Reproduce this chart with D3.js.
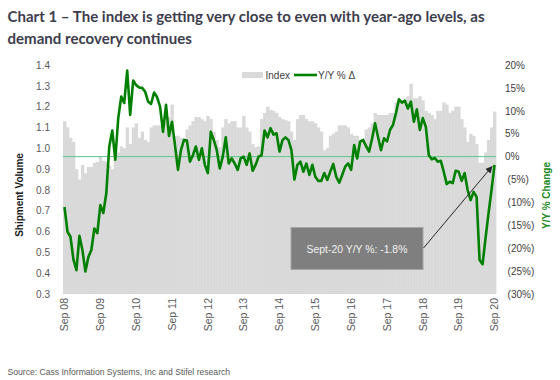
<!DOCTYPE html>
<html>
<head>
<meta charset="utf-8">
<script src="https://cdn.jsdelivr.net/npm/d3@7"></script>
<style>
  body { margin: 0; background: #fff; }
  svg { display: block; font-family: "Liberation Sans", Arial, sans-serif; }
</style>
</head>
<body>
<svg id="chart" width="560" height="380"></svg>
<script>
// Cass shipments index, monthly Sep 08 .. Sep 20
const indexValues = [
  1.13, 1.10, 1.05, 1.03, 0.90, 0.85, 0.92, 0.88, 0.91, 0.91, 0.93, 0.935,
  0.96, 0.94, 0.935, 0.915, 0.90, 0.95, 0.98, 1.01, 1.00, 1.10, 1.02, 1.10,
  1.12, 1.05, 1.08, 1.04, 1.03, 1.10, 1.11, 1.11, 1.11, 1.08, 1.13, 1.15,
  1.21, 1.06, 1.06, 1.05, 1.05, 1.09, 1.11, 1.13, 1.15, 1.15, 1.14, 1.13,
  1.155, 1.14, 1.08, 1.04, 1.005, 1.10, 1.14, 1.12, 1.13, 1.13, 1.10, 1.10,
  1.155, 1.10, 1.08, 1.02, 1.005, 1.01, 1.14, 1.17, 1.20, 1.185, 1.18, 1.17,
  1.15, 1.14, 1.135, 1.13, 1.08, 1.04, 1.14, 1.16, 1.16, 1.14, 1.13, 1.13,
  1.12, 1.10, 1.08, 0.99, 1.00, 1.06, 1.07, 1.08, 1.11, 1.11, 1.11, 1.10,
  1.07, 1.06, 1.06, 1.03, 1.05, 1.09, 1.10, 1.12, 1.17, 1.16, 1.16, 1.16,
  1.16, 1.17, 1.17, 1.22, 1.23, 1.23, 1.23, 1.25, 1.31, 1.24, 1.24, 1.25,
  1.23, 1.18, 1.17, 1.16, 1.14, 1.18, 1.18, 1.22, 1.21, 1.17, 1.18, 1.20,
  1.20, 1.14, 1.10, 1.03, 1.07, 1.06, 1.02, 0.93, 0.93, 0.98, 1.04, 1.10,
  1.176
];

// Y/Y % change, same months
const yoyValues = [
  -11.0, -16.4, -17.5, -22.5, -24.8, -17.3, -20.4, -25.1, -21.9, -20.4, -15.7, -16.7,
  -10.6, -12.3, -8.0, 2.2, 5.7, -0.7, 8.4, 13.1, 11.7, 18.8, 9.1, 16.6,
  15.6, 15.1, 15.0, 14.2, 12.0, 11.5, 14.0, 13.0, 10.9, 5.4, 11.3, 4.5,
  7.6, 2.5, -2.9, 1.4, 3.6, 3.5, -1.1, 0.3, 2.2, -0.7, 1.8, -1.8,
  -3.6, 5.4, 3.6, 1.4, -2.6, 0.0, 4.2, -1.5, -0.4, -1.5, -2.9, -0.4,
  0.0, -1.8, 0.7, -3.1, -1.8, 0.0, 0.3, 5.7, 4.2, 6.2, 4.8, 5.1,
  1.1, 3.6, 4.2, 3.6, 1.4, -5.0, -1.8, -1.1, -3.3, -1.5, -4.0, -1.8,
  -4.4, -5.3, -5.3, -3.6, -5.1, -3.3, -1.6, -4.4, -5.7, -4.0, -2.2, -1.5,
  -2.9, 2.5, -0.4, 3.3, 3.6, 2.3, 1.1, 3.9, 7.3, 4.3, 1.4, 4.0,
  3.3, 5.8, 6.9, 9.5, 12.5, 11.8, 12.2, 10.5, 12.0, 7.6, 10.3, 5.8,
  8.4, 6.5, 0.3, -0.6, -0.3, -1.1, -0.9, -3.3, -6.0, -5.5, -5.8, -3.1,
  -3.3, -5.3, -3.6, -7.3, -9.5, -7.7, -8.8, -22.6, -23.5, -17.8, -12.4, -7.3,
  -1.8
];

const leftTicks = [0.3, 0.4, 0.5, 0.6, 0.7, 0.8, 0.9, 1.0, 1.1, 1.2, 1.3, 1.4];
const rightTicks = [-30, -25, -20, -15, -10, -5, 0, 5, 10, 15, 20];
const tickLabels = ["Sep 08", "Sep 09", "Sep 10", "Sep 11", "Sep 12", "Sep 13",
  "Sep 14", "Sep 15", "Sep 16", "Sep 17", "Sep 18", "Sep 19", "Sep 20"];

const months = d3.timeMonth.range(new Date(2008, 8, 1), new Date(2020, 9, 1));
const fmtMonth = d3.timeFormat("%b %y");
const data = months.map((m, i) => ({ key: fmtMonth(m), index: indexValues[i], yoy: yoyValues[i] }));

const svg = d3.select("#chart");

// scale a text's font-size so that it spans the given width
const fitWidth = (sel, w) => {
  const len = sel.node().getComputedTextLength();
  const fs = parseFloat(sel.attr("font-size"));
  sel.attr("font-size", (fs * w / len).toFixed(2));
};

const x = d3.scaleBand()
  .domain(data.map(d => d.key))
  .range([63, 496])
  .padding(0);
const bw = x.bandwidth();

const yLeft = d3.scaleLinear().domain([0.3, 1.4]).range([294, 65]);
const yRight = d3.scaleLinear().domain([-30, 20]).range([294, 65]);

// Title
const title1 = svg.append("text")
  .attr("x", 7.5).attr("y", 22)
  .attr("font-family", "Lato, 'Open Sans', sans-serif")
  .attr("font-weight", "bold")
  .attr("font-size", 15)
  .attr("fill", "#3d3d4d")
  .text("Chart 1 \u2013 The index is getting very close to even with year-ago levels, as");
fitWidth(title1, 477);
svg.append("text")
  .attr("x", 7.5).attr("y", 44)
  .attr("font-family", "Lato, 'Open Sans', sans-serif")
  .attr("font-weight", "bold")
  .attr("font-size", title1.attr("font-size"))
  .attr("fill", "#3d3d4d")
  .text("demand recovery continues");

// Bars
svg.append("g")
  .selectAll("rect")
  .data(data)
  .join("rect")
  .attr("x", d => x(d.key))
  .attr("y", d => yLeft(d.index))
  .attr("width", bw + 0.4)
  .attr("height", d => yLeft(0.3) - yLeft(d.index))
  .attr("fill", "#d9d9d9");

// Zero line on the right axis
svg.append("line")
  .attr("x1", 63).attr("x2", 496)
  .attr("y1", yRight(0)).attr("y2", yRight(0))
  .attr("stroke", "#5cc98a")
  .attr("stroke-width", 1);

// Y/Y line
const line = d3.line()
  .x(d => x(d.key) + bw / 2)
  .y(d => yRight(d.yoy));
svg.append("path")
  .datum(data)
  .attr("d", line)
  .attr("fill", "none")
  .attr("stroke", "#008000")
  .attr("stroke-width", 2.6)
  .attr("stroke-linejoin", "round");

// Left axis
const axL = svg.append("g")
  .attr("transform", "translate(53,0)")
  .call(d3.axisLeft(yLeft).tickValues(leftTicks).tickSize(0).tickPadding(3).tickFormat(d3.format(".1f")));
axL.select(".domain").remove();
axL.selectAll("text")
  .attr("font-size", 10)
  .attr("font-family", "'Liberation Sans', Arial, sans-serif")
  .attr("fill", "#595959");

// Right axis
const pct = v => v < 0 ? `(${-v}%)` : `${v}%`;
const axR = svg.append("g")
  .attr("transform", "translate(502,0)")
  .call(d3.axisRight(yRight).tickValues(rightTicks).tickSize(0).tickPadding(3).tickFormat(pct));
axR.select(".domain").remove();
axR.selectAll("text")
  .attr("font-size", 10)
  .attr("font-family", "'Liberation Sans', Arial, sans-serif")
  .attr("fill", "#404040")
  .attr("dx", d => d < 0 ? 2.6 : 0);

// X labels (every September)
svg.append("g")
  .selectAll("text")
  .data(tickLabels)
  .join("text")
  .attr("transform", d => `translate(${x(d) + bw / 2},298) rotate(-90)`)
  .attr("text-anchor", "end")
  .attr("dy", "0.35em")
  .attr("font-size", 10.5)
  .attr("fill", "#595959")
  .text(d => d);

// Axis titles
svg.append("text")
  .attr("transform", "translate(19,195) rotate(-90)")
  .attr("text-anchor", "middle")
  .attr("dy", "0.35em")
  .attr("font-weight", "bold")
  .attr("font-size", 10)
  .attr("fill", "#1a1a1a")
  .text("Shipment Volume");
svg.append("text")
  .attr("transform", "translate(546,195.5) rotate(-90)")
  .attr("text-anchor", "middle")
  .attr("dy", "0.35em")
  .attr("font-weight", "bold")
  .attr("font-size", 10)
  .attr("fill", "#1e8a1e")
  .text("Y/Y % Change");

// Legend
const legend = svg.append("g").attr("font-size", 10).attr("fill", "#404040");
legend.append("rect")
  .attr("x", 242).attr("y", 72).attr("width", 21).attr("height", 6)
  .attr("fill", "#d9d9d9");
legend.append("text").attr("x", 265.5).attr("y", 78.5).text("Index");
legend.append("line")
  .attr("x1", 294).attr("x2", 317).attr("y1", 75).attr("y2", 75)
  .attr("stroke", "#008000").attr("stroke-width", 2.6);
legend.append("text").attr("x", 318).attr("y", 78.5).text("Y/Y % \u0394");

// Annotation box and arrow
svg.append("defs").append("marker")
  .attr("id", "arrow")
  .attr("viewBox", "0 0 10 10")
  .attr("refX", 9).attr("refY", 5)
  .attr("markerWidth", 7).attr("markerHeight", 7)
  .attr("orient", "auto")
  .append("path")
  .attr("d", "M0,0L10,5L0,10z")
  .attr("fill", "#262626");

svg.append("rect")
  .attr("x", 291).attr("y", 227.5).attr("width", 132).attr("height", 42)
  .attr("fill", "#7f7f7f")
  .attr("stroke", "#a6a6a6")
  .attr("stroke-width", 1);
const ann = svg.append("text")
  .attr("x", 357).attr("y", 252.5)
  .attr("text-anchor", "middle")
  .attr("font-size", 11)
  .attr("fill", "#f2f2f2")
  .text("Sept-20 Y/Y %: -1.8%");
fitWidth(ann, 101);

svg.append("line")
  .attr("x1", 423.5).attr("y1", 248)
  .attr("x2", 492).attr("y2", 166.5)
  .attr("stroke", "#262626")
  .attr("stroke-width", 1)
  .attr("marker-end", "url(#arrow)");

// Source
const src = svg.append("text")
  .attr("x", 7.5).attr("y", 375)
  .attr("font-size", 9)
  .attr("fill", "#595959")
  .text("Source: Cass Information Systems, Inc and Stifel research");
fitWidth(src, 223);
</script>
</body>
</html>
